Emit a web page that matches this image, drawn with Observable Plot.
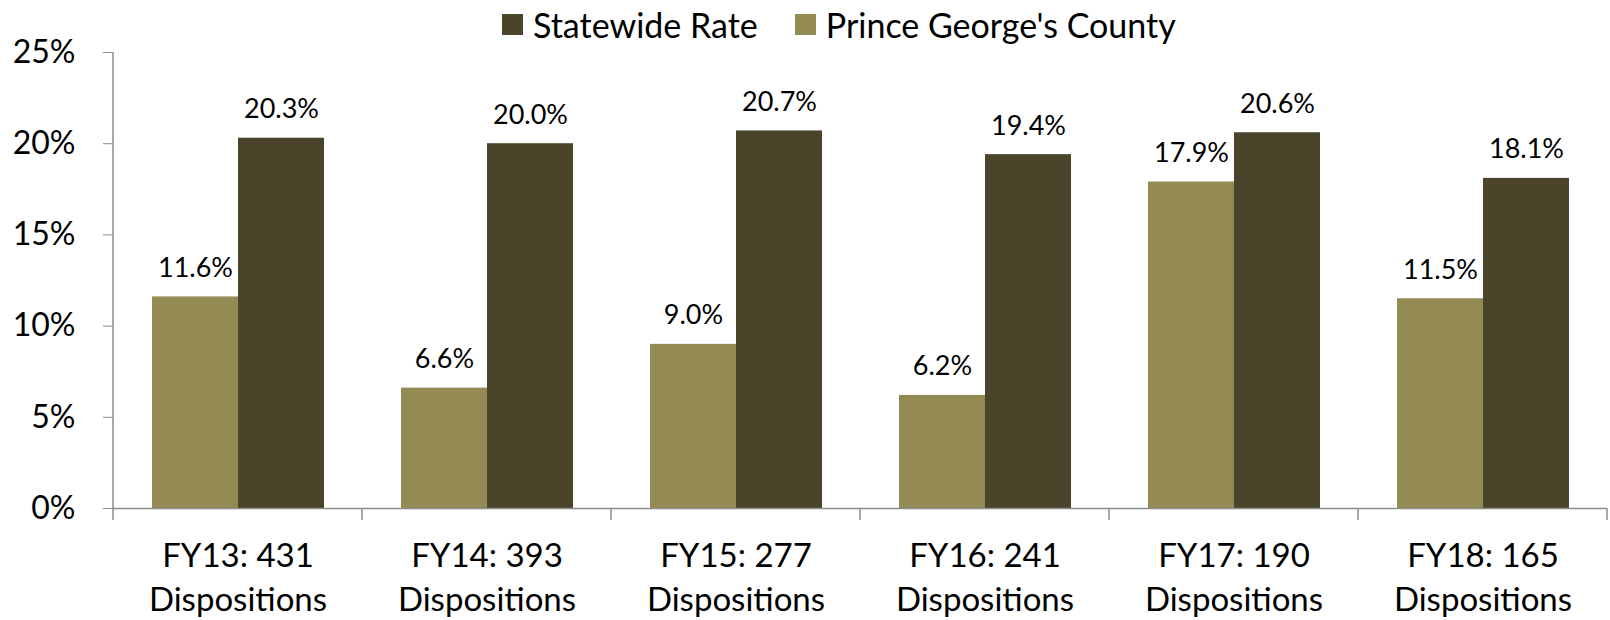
<!DOCTYPE html>
<html>
<head>
<meta charset="utf-8">
<script src="https://cdn.jsdelivr.net/npm/d3@7"></script>
<script src="https://cdn.jsdelivr.net/npm/@observablehq/plot@0.6"></script>
<style>
  html, body { margin: 0; padding: 0; background: #fff; }
  body { width: 1610px; height: 620px; overflow: hidden; position: relative; font-family: Lato, "Open Sans", sans-serif; }
  #legend { position: absolute; top: 0; left: 502px; height: 49px; display: flex; align-items: center; font-size: 34px; color: #000; white-space: nowrap; z-index: 2; }
  .item { display: flex; align-items: center; margin-right: 37px; }
  .sw { width: 21px; height: 21px; margin-right: 10px; display: inline-block; }
  #chart { position: absolute; top: 0; left: 0; }
</style>
</head>
<body>
<div id="legend"></div>
<div id="chart"></div>
<script>
const categories = ["FY13: 431", "FY14: 393", "FY15: 277", "FY16: 241", "FY17: 190", "FY18: 165"];
const categorySuffix = "Dispositions";
const seriesNames = ["Prince George's County", "Statewide Rate"];
const legendOrder = ["Statewide Rate", "Prince George's County"];
const princeGeorges = [11.6, 6.6, 9.0, 6.2, 17.9, 11.5];
const statewide = [20.3, 20.0, 20.7, 19.4, 20.6, 18.1];
const yTicks = [0, 5, 10, 15, 20, 25];
const colors = {"Prince George's County": "#948A54", "Statewide Rate": "#4A452A"};

const data = [];
categories.forEach((c, i) => {
  data.push({cat: c, series: seriesNames[0], value: princeGeorges[i]});
  data.push({cat: c, series: seriesNames[1], value: statewide[i]});
});

// legend
const legend = document.getElementById("legend");
legendOrder.forEach(s => {
  const it = document.createElement("div");
  it.className = "item";
  const sw = document.createElement("span");
  sw.className = "sw";
  sw.style.background = colors[s];
  it.appendChild(sw);
  it.appendChild(document.createTextNode(s));
  legend.appendChild(it);
});

const W = 1610, H = 620;
const chart = Plot.plot({
  width: W,
  height: H,
  marginLeft: 110,
  marginRight: 1,
  marginTop: 52,
  marginBottom: 112,
  style: {fontFamily: "Lato, 'Open Sans', sans-serif", color: "#000", background: "#fff", overflow: "visible"},
  fx: {domain: categories, padding: 0, label: null},
  x: {domain: seriesNames, paddingInner: 0, paddingOuter: 0.445, axis: null},
  y: {domain: [0, 25], label: null},
  color: {domain: seriesNames, range: seriesNames.map(s => colors[s])},
  marks: [
    Plot.barY(data, {fx: "cat", x: "series", y: "value", fill: "series"}),
    Plot.ruleY([0], {stroke: "#8c8c8c", strokeWidth: 1.5}),
    Plot.text(data, {fx: "cat", x: "series", y: "value", text: d => d.value.toFixed(1) + "%", dy: -20, lineAnchor: "bottom", fontSize: 27, fill: "#000"}),
    Plot.axisY({ticks: yTicks, tickFormat: d => d + "%", tickSize: 10, tickPadding: 28, fontSize: 32, stroke: "#8c8c8c", fill: "#000", label: null}),
    Plot.axisFx({anchor: "bottom", tickSize: 0, tickPadding: 27, fontSize: 33, lineHeight: 1.33, tickFormat: d => d + "\n" + categorySuffix, label: null, fill: "#000"})
  ]
});
document.getElementById("chart").appendChild(chart);

// category boundary ticks and vertical axis line, placed with the plot's own scales
const fx = chart.scale("fx");
const y = chart.scale("y");
const svg = d3.select(chart);
const bounds = categories.map(c => fx.apply(c));
bounds.push(fx.apply(categories[categories.length - 1]) + fx.bandwidth);
const y0 = y.apply(0), yTop = y.apply(25);
const g = svg.append("g").attr("stroke", "#8c8c8c").attr("stroke-width", 1.5);
g.append("line").attr("x1", bounds[0]).attr("x2", bounds[0]).attr("y1", yTop).attr("y2", y0);
bounds.forEach(b => {
  g.append("line").attr("x1", b).attr("x2", b).attr("y1", y0).attr("y2", y0 + 12);
});
</script>
</body>
</html>
